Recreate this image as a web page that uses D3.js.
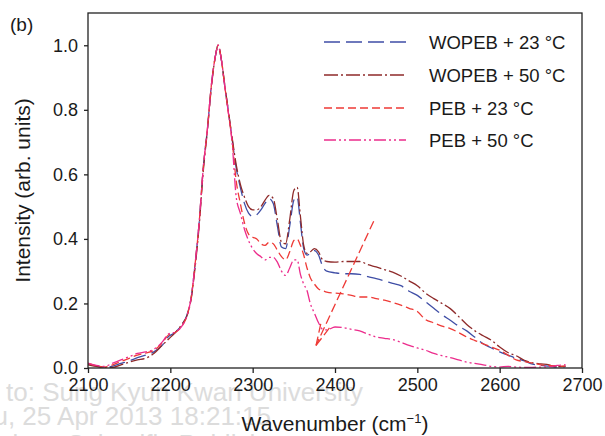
<!DOCTYPE html>
<html>
<head>
<meta charset="utf-8">
<script src="https://cdn.jsdelivr.net/npm/d3@7"></script>
<style>
  body { margin: 0; background: #fff; }
  svg { display: block; font-family: "Liberation Sans", Arial, sans-serif; }
</style>
</head>
<body>
<div id="chart"></div>
<script>
// wavenumber grid (cm-1), shared by all four spectra
const wavenumbers = [
  2100, 2110, 2120, 2130, 2140, 2150, 2160, 2170, 2180, 2190,
  2198, 2206, 2214, 2220, 2226, 2230, 2235, 2240, 2245, 2250,
  2255, 2258, 2262, 2266, 2270, 2275, 2280, 2285, 2290, 2295,
  2300, 2305, 2310, 2315, 2320, 2325, 2330, 2335, 2340, 2345,
  2350, 2354, 2358, 2362, 2366, 2370, 2375, 2380, 2385, 2390,
  2400, 2410, 2420, 2430, 2440, 2450, 2460, 2470, 2480, 2490,
  2500, 2510, 2520, 2530, 2540, 2550, 2560, 2570, 2580, 2590,
  2600, 2610, 2620, 2630, 2640, 2650, 2660, 2670, 2680
];

const seriesNames = ["WOPEB + 23 °C", "WOPEB + 50 °C", "PEB + 23 °C", "PEB + 50 °C"];

const wopeb23 = [
  .012, .006, .002, .006, .014, .022, .032, .040, .050, .070,
  .098, .110, .135, .163, .230, .320, .450, .620, .740, .880,
  .970, 1.00, .955, .875, .805, .710, .620, .560, .510, .480,
  .470, .475, .490, .510, .525, .510, .440, .375, .370, .440,
  .520, .530, .450, .370, .350, .355, .364, .350, .315, .300,
  .295, .292, .292, .290, .283, .277, .270, .262, .255, .238,
  .225, .205, .185, .165, .148, .130, .115, .095, .075, .062,
  .050, .040, .030, .022, .012, .008, .006, .003, .004
];

const wopeb50 = [
  .010, .005, .001, .002, .010, .018, .025, .030, .045, .070,
  .090, .110, .135, .160, .225, .310, .440, .610, .735, .875,
  .970, 1.00, .955, .880, .805, .715, .630, .570, .530, .500,
  .490, .490, .500, .520, .535, .525, .460, .390, .385, .460,
  .550, .560, .470, .380, .355, .360, .370, .360, .335, .330,
  .328, .330, .330, .330, .320, .313, .305, .297, .285, .270,
  .255, .232, .215, .200, .184, .160, .135, .115, .100, .086,
  .065, .048, .038, .024, .016, .013, .010, .004, .006
];

const peb23 = [
  .014, .007, .003, .010, .020, .030, .040, .046, .055, .077,
  .103, .110, .130, .160, .230, .320, .450, .620, .740, .880,
  .970, 1.00, .955, .875, .800, .705, .580, .510, .450, .415,
  .405, .400, .385, .380, .390, .385, .365, .345, .335, .360,
  .395, .400, .380, .350, .310, .280, .260, .245, .240, .235,
  .232, .230, .225, .220, .220, .215, .210, .203, .195, .185,
  .175, .150, .140, .130, .122, .110, .096, .085, .075, .065,
  .055, .040, .025, .020, .015, .010, .008, .006, .006
];

const peb50 = [
  .015, .008, .005, .015, .025, .035, .045, .050, .058, .080,
  .106, .111, .130, .160, .230, .320, .450, .620, .740, .880,
  .970, 1.00, .955, .875, .800, .700, .530, .480, .430, .395,
  .370, .354, .345, .335, .343, .343, .328, .300, .287, .310,
  .335, .335, .290, .260, .240, .200, .170, .140, .120, .118,
  .127, .125, .120, .115, .105, .096, .092, .088, .080, .070,
  .062, .055, .045, .038, .032, .025, .018, .014, .010, .005,
  .003, .005, .003, .002, .002, .003, .004, .008, .010
];

const xTicks = [2100, 2200, 2300, 2400, 2500, 2600, 2700];
const yTicks = [0, 0.2, 0.4, 0.6, 0.8, 1.0];

// arrow annotation, in data units: [wavenumber, intensity]
const arrowFrom = [2447, 0.455];
const arrowTo = [2377, 0.07];

const watermark = [
  "Delivered by Ingenta to: Sung Kyun Kwan University",
  "Thu, 25 Apr 2013 18:21:15",
  "Copyright American Scientific Publishers"
];

const width = 605, height = 436;
const margin = {top: 13, right: 23, bottom: 68, left: 88};

const x = d3.scaleLinear().domain([2100, 2700]).range([margin.left, width - margin.right]);
const y = d3.scaleLinear().domain([0, 1.1]).range([height - margin.bottom, margin.top]);

const series = [
  {name: seriesNames[0], values: wopeb23, color: "#3f4ea6", dash: "16,6"},
  {name: seriesNames[1], values: wopeb50, color: "#8e2a2a", dash: "14,3,2,3"},
  {name: seriesNames[2], values: peb23, color: "#ee3a36", dash: "8,4"},
  {name: seriesNames[3], values: peb50, color: "#ec2c8c", dash: "12,3,2,3,2,3"}
];

const svg = d3.select("#chart").append("svg")
  .attr("width", width)
  .attr("height", height);

// faint publisher watermark (under everything)
const wm = svg.append("g")
  .attr("fill", "#dcdcdc")
  .style("font-size", "26px")
  .attr("text-anchor", "end");
const wmEnds = [363, 271, 300];
const wmBase = [401, 425, 453];
wm.selectAll("text")
  .data(watermark)
  .enter().append("text")
    .attr("x", (d, i) => wmEnds[i])
    .attr("y", (d, i) => wmBase[i])
    .text(d => d);

svg.append("defs").append("clipPath").attr("id", "clip")
  .append("rect")
    .attr("x", margin.left).attr("y", margin.top)
    .attr("width", width - margin.left - margin.right)
    .attr("height", height - margin.top - margin.bottom);

const line = d3.line()
  .x((d, i) => x(wavenumbers[i]))
  .y(d => y(d))
  .curve(d3.curveMonotoneX);

const plot = svg.append("g").attr("clip-path", "url(#clip)");

plot.selectAll("path.spec")
  .data(series)
  .enter().append("path")
    .attr("class", "spec")
    .attr("fill", "none")
    .attr("stroke", d => d.color)
    .attr("stroke-width", 1.3)
    .attr("stroke-dasharray", d => d.dash)
    .attr("d", d => line(d.values));

// arrow
const ax0 = x(arrowFrom[0]), ay0 = y(arrowFrom[1]);
const ax1 = x(arrowTo[0]), ay1 = y(arrowTo[1]);
const ang = Math.atan2(ay0 - ay1, ax0 - ax1);
const headLen = 26, headSpread = 0.22;
const arrow = svg.append("g")
  .attr("stroke", "#ee3a36")
  .attr("stroke-width", 1.3)
  .attr("stroke-dasharray", "9,4")
  .attr("fill", "none");
arrow.append("line")
  .attr("x1", ax0).attr("y1", ay0).attr("x2", ax1).attr("y2", ay1);
[-1, 1].forEach(s => {
  arrow.append("line")
    .attr("x1", ax1).attr("y1", ay1)
    .attr("x2", ax1 + headLen * Math.cos(ang + s * headSpread))
    .attr("y2", ay1 + headLen * Math.sin(ang + s * headSpread));
});

// frame
svg.append("rect")
  .attr("x", margin.left).attr("y", margin.top)
  .attr("width", width - margin.left - margin.right)
  .attr("height", height - margin.top - margin.bottom)
  .attr("fill", "none")
  .attr("stroke", "#222")
  .attr("stroke-width", 1.3);

const xAxis = svg.append("g")
  .attr("transform", `translate(0,${height - margin.bottom})`)
  .call(d3.axisBottom(x).tickValues(xTicks).tickFormat(d3.format("d")).tickSize(5).tickPadding(5));
const yAxis = svg.append("g")
  .attr("transform", `translate(${margin.left},0)`)
  .call(d3.axisLeft(y).tickValues(yTicks).tickFormat(d3.format(".1f")).tickSize(4).tickPadding(6));

[xAxis, yAxis].forEach(a => {
  a.select(".domain").remove();
  a.selectAll("line").attr("stroke", "#222").attr("stroke-width", 1.3);
  a.selectAll("text")
    .attr("fill", "#1a1a1a")
    .style("font-size", "18px")
    .style("font-family", "'Liberation Sans', Arial, sans-serif");
});

// axis titles
const xTitle = svg.append("text")
  .attr("x", (margin.left + width - margin.right) / 2)
  .attr("y", 431)
  .attr("text-anchor", "middle")
  .attr("fill", "#1a1a1a")
  .style("font-size", "21px")
  .text("Wavenumber (cm");
xTitle.append("tspan")
  .attr("dy", -8)
  .style("font-size", "13px")
  .text("−1");
xTitle.append("tspan")
  .attr("dy", 8)
  .text(")");

svg.append("text")
  .attr("transform", `translate(30,${(margin.top + height - margin.bottom) / 2}) rotate(-90)`)
  .attr("text-anchor", "middle")
  .attr("fill", "#1a1a1a")
  .style("font-size", "21px")
  .text("Intensity (arb. units)");

svg.append("text")
  .attr("x", 10).attr("y", 31)
  .attr("fill", "#1a1a1a")
  .style("font-size", "19px")
  .text("(b)");

// legend
const legY = [42, 75, 108, 140];
const legend = svg.append("g");
const rows = legend.selectAll("g")
  .data(series)
  .enter().append("g")
    .attr("transform", (d, i) => `translate(0,${legY[i]})`);
rows.append("line")
  .attr("x1", 324).attr("x2", 406)
  .attr("stroke", d => d.color)
  .attr("stroke-width", 1.3)
  .attr("stroke-dasharray", d => d.dash);
rows.append("text")
  .attr("x", 429)
  .attr("y", 7)
  .attr("fill", "#1a1a1a")
  .style("font-size", "18.5px")
  .text(d => d.name);
</script>
</body>
</html>
